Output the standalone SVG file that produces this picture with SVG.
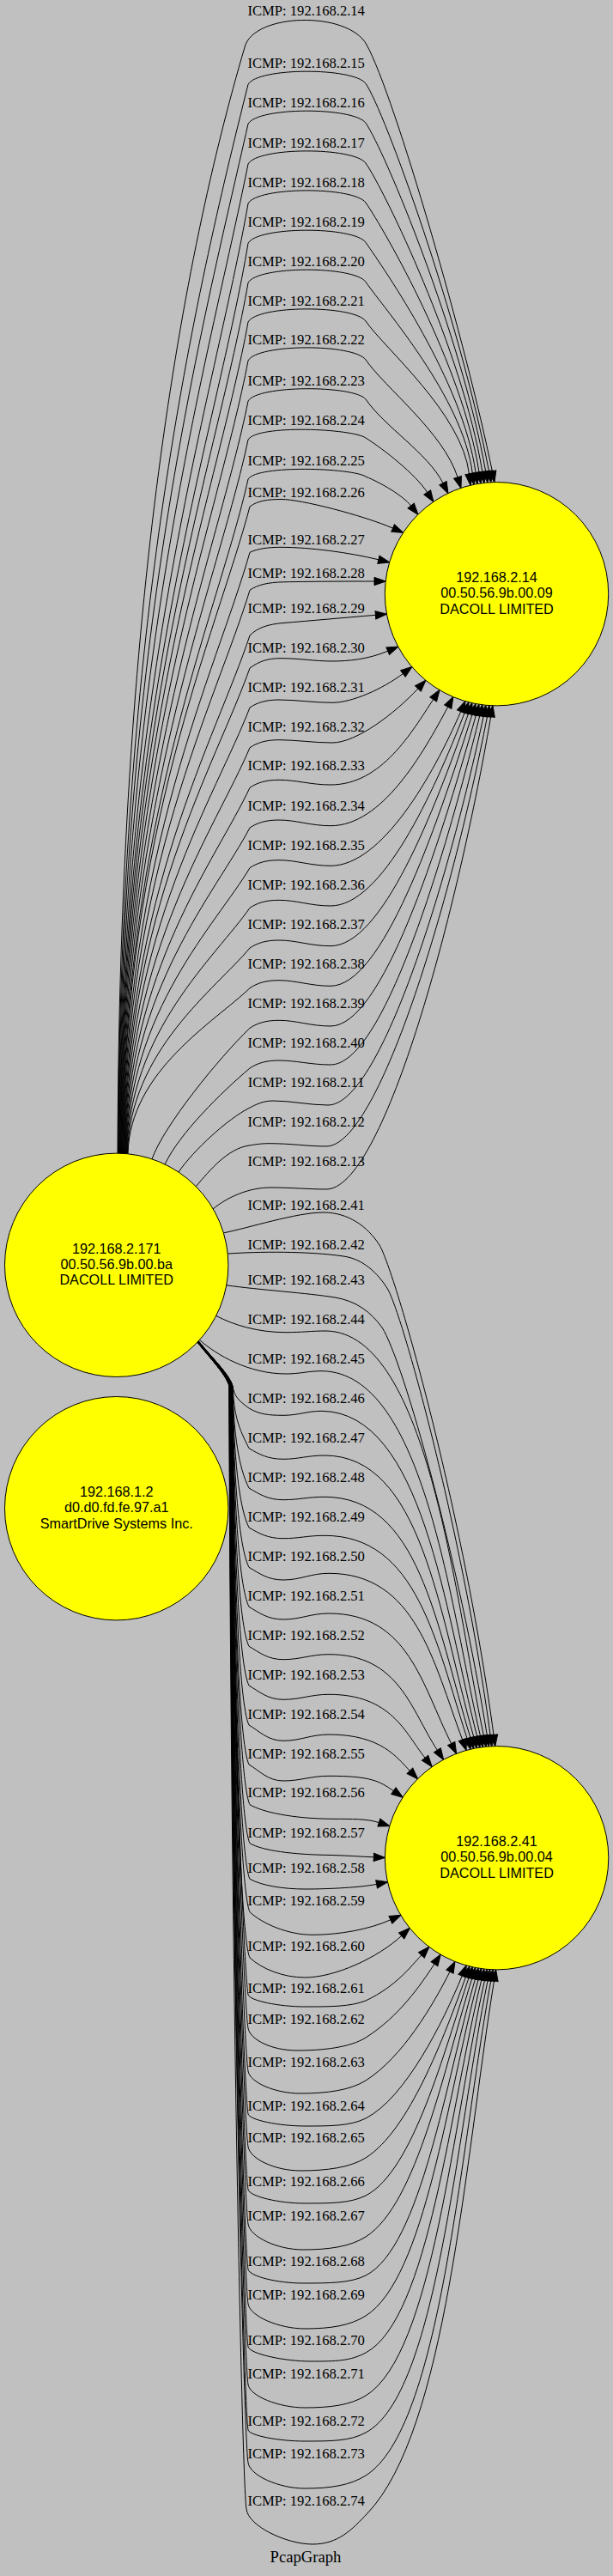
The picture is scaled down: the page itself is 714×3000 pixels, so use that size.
<svg xmlns="http://www.w3.org/2000/svg" width="714" height="3000" viewBox="0 0 714 3000">
<style>
.n circle{fill:#ffff00;stroke:#000;stroke-width:1}
.n text{font-family:"Liberation Sans",Arial,sans-serif;font-size:16.2px;text-anchor:middle;fill:#000}
#edges path{fill:none;stroke:#000;stroke-width:1;marker-end:url(#ah)}
.l{font-family:"Liberation Serif","Times New Roman",serif;font-size:16.6px;text-anchor:middle;fill:#000}
.t{font-family:"Liberation Serif","Times New Roman",serif;font-size:18.67px;text-anchor:middle;fill:#000}
</style>
<defs>
<marker id="ah" markerUnits="userSpaceOnUse" viewBox="0 -5 14 10" refX="0" refY="0" markerWidth="14" markerHeight="10" orient="auto" overflow="visible">
<path d="M0,-4.65 L13.3,0 L0,4.65 z" fill="#000" stroke="#000" stroke-width="1"/>
</marker>
</defs>
<rect x="0" y="0" width="714" height="3000" fill="#c0c0c0"/>
<g id="edges">
<path d="M137,1343.6 C139,699.3 213,300 285,55 C295,15 405,12 427,52 C460,112 543.5,402.7 573.3,548.7"/>
<path d="M137.5,1343.6 C139.5,720.9 226.7,347.3 289,98.3 C300,78.3 412,78.3 426,97.3 C448,129.3 535.5,371.5 569.5,548.8"/>
<path d="M138,1343.6 C140,744 235,384.2 289,144.3 C300,124.3 412,124.3 426,143.3 C448,175.3 537.1,389.3 565.7,549"/>
<path d="M138.5,1343.6 C140.5,767.3 242.9,421.5 289,191 C300,171 412,171 426,190 C448,222 538.2,407.6 561.8,549.4"/>
<path d="M139,1343.6 C141,790.3 250.3,458.3 289,237 C300,217 412,217 426,236 C448,268 538.9,425.8 558,549.9"/>
<path d="M139.5,1343.6 C141.5,813.5 254,495.4 289,283.3 C300,263.3 412,263.3 426,282.3 C448,314.3 539.1,444.3 554.1,550.5"/>
<path d="M140,1343.6 C142,836.5 254,532.2 289,329.3 C300,309.3 412,309.3 426,328.3 C448,360.3 538.9,462.7 550.3,551.2"/>
<path d="M140.5,1343.6 C142.5,859.3 254,568.7 289,375 C300,355 412,355 426,374 C448,406 538.2,481.4 546.5,552.1"/>
<path d="M141,1343.6 C143,881.8 254,604.7 289,420 C300,400 412,400 426,419 C448,451 516.6,503.6 533,555.8"/>
<path d="M141.5,1343.6 C143.5,905.3 254,642.3 289,467 C300,448.3 412,448.3 426,465 C448,497 498.5,527.9 516,562.7"/>
<path d="M142,1343.6 C144,927.8 254,678.3 289,512 C300,494.3 410,499 426,510 C448,524 483.7,552.2 497.7,573.4"/>
<path d="M142.5,1343.6 C144.5,950.8 254,715 289,558 C300,541 410,545 426,555 C445,563 469.4,577.3 478.7,589"/>
<path d="M143,1343.6 C145,966.8 251,740.7 291,590 C300,583 312,581.5 328,581.5 C350,581.5 420.8,599.5 457.6,615.1"/>
<path d="M143.5,1343.6 C145.5,993.5 251,783.3 291,643.3 C300,639 312,637.3 328,637.3 C360,637.3 406.9,643.4 440.9,651.8"/>
<path d="M144,1343.6 C146,1015.5 251,818.6 291,687.3 C300,681 312,678.3 330,677.8 C370,677 410,677 436,677"/>
<path d="M144.5,1343.6 C146.5,1041.8 251,860.7 291,740 C300,731 312,727 330,725.5 C360,723 400,719.5 437.4,716.3"/>
<path d="M145,1343.6 C147,1060.8 251,891 291,778 C302,770 312,766.7 327,766.7 C350,766.7 365,770 387,770 C405,770 428.6,768 451.7,758.2"/>
<path d="M145.5,1343.6 C147.5,1083.8 251,927.9 291,824 C300,818 310,815 325,815 C345,815 365,818.3 387,818.3 C410,818.3 445.4,802.5 469.4,784.5"/>
<path d="M146,1343.6 C148,1107.2 251,965.3 291,870.7 C300,864.7 310,861.7 325,861.7 C345,861.7 365,865 387,865 C415,865 459.6,831.2 486.9,801.9"/>
<path d="M146.5,1343.6 C148.5,1130.5 251,1002.6 291,917.3 C300,911.3 310,908.3 325,908.3 C345,908.3 362,914 385,914 C444.9,914 480,851.8 504.7,814.5"/>
<path d="M147,1343.6 C149,1153.8 251,1039.9 291,964 C300,958 310,955 325,955 C345,955 362,961.7 385,961.7 C445,961.7 492.4,878.2 521.7,823.2"/>
<path d="M147.5,1343.6 C149.5,1177.2 251,1077.3 291,1010.7 C300,1004.7 310,1001.7 325,1001.7 C345,1001.7 362,1008.3 385,1008.3 C445,1008.3 504.5,902.8 536.7,828.7"/>
<path d="M148,1343.6 C150,1200.5 251,1114.6 291,1057.3 C300,1051.3 310,1048.3 325,1048.3 C345,1048.3 362,1055 385,1055 C445,1055 504.6,924.5 541.2,830"/>
<path d="M148.5,1343.6 C150.5,1223.8 251,1151.9 291,1104 C300,1098 310,1095 325,1095 C345,1095 362,1101.7 385,1101.7 C445,1101.7 505.3,945.9 545.6,831"/>
<path d="M149,1343.6 C151,1247.2 251,1189.3 291,1150.7 C300,1144.7 310,1141.7 325,1141.7 C345,1141.7 362,1148.3 385,1148.3 C445,1148.3 507.2,967.8 550,832.1"/>
<path d="M177,1350 C190,1312 255,1232 291,1197.3 C300,1191.3 310,1188.3 325,1188.3 C345,1188.3 362,1195 385,1195 C445,1195 510.3,989.8 554.4,832.9"/>
<path d="M192,1356 C209,1320 258,1272 291,1244 C300,1238 310,1235 325,1235 C345,1235 362,1240 385,1240 C445,1240 514.9,1011 558.8,833.5"/>
<path d="M208,1365 C225,1340 265,1303 291,1290 C298,1286.5 306,1282 318,1282 C340,1282 360,1287 382,1287 C442,1287 520.5,1033.4 563.2,834.1"/>
<path d="M228,1382 C245,1362 265,1338 290,1334 C300,1332.5 305,1331.7 313,1331.7 C340,1331.7 358,1335 380,1335 C440,1335 524.6,1055.6 567.5,834.5"/>
<path d="M248,1408 C265,1394 290,1383 315,1383 C340,1383 360,1385 380,1385 C445,1385 529.6,1078.7 571.7,834.7"/>
<path d="M260.2,1435.9 C290,1430 345,1412 377,1412 C405,1412 428,1428 442,1450 C460,1480 540,1760 575,2020.5"/>
<path d="M265,1460.1 C300,1457.5 360,1457 400,1463 C422,1466 440,1482 452,1502 C470,1535 540,1790 571.1,2020.7"/>
<path d="M263.6,1496.8 C300,1502 360,1506 390,1511 C415,1515 432,1528 445,1546 C470,1585 535,1820 567.3,2020.9"/>
<path d="M251.5,1532.3 C272,1543 300,1551.7 333,1551.7 C352,1551.7 362,1550 380,1550 C500,1552 531.9,1874.6 563.4,2021.3"/>
<path d="M232.3,1560.3 C252,1578 290,1600 333,1600 C350,1600 358,1596.7 375,1596.7 C495,1598 525,1875.8 559.5,2021.8"/>
<path d="M231.2,1561.6 C245.2,1579.6 267,1600 271,1614 C273,1627 278,1630.9 290,1640 C302,1647 312,1648.3 330,1648.3 C348,1648.3 357,1643.3 375,1643.3 C492.5,1645 518.2,1877.1 555.7,2022.3"/>
<path d="M231.2,1561.7 C245.2,1579.7 266.9,1600 270.9,1614 C272.9,1650.4 278,1662.7 290,1686.7 C302,1693.7 312,1699.3 330,1699.3 C348,1699.3 358,1695 378,1695 C491,1695 511.3,1878.5 551.8,2023"/>
<path d="M231.1,1561.7 C245.1,1579.7 266.7,1600 270.7,1614 C272.7,1673.5 278,1709 290,1733 C302,1740 312,1746.7 330,1746.7 C348,1746.7 358,1743.3 378,1743.3 C488,1743.3 507.3,1889.8 547.9,2023.8"/>
<path d="M231,1561.8 C245,1579.8 266.6,1600 270.6,1614 C272.6,1696.5 278,1755 290,1779 C302,1786 312,1791.7 330,1791.7 C348,1791.7 358,1788.3 378,1788.3 C486,1788.3 507.5,1912.5 544.1,2024.7"/>
<path d="M231,1561.8 C245,1579.8 266.4,1600 270.4,1614 C272.4,1719.7 278,1801.3 290,1825.3 C302,1832.3 312,1840 330,1840 C350,1840 362,1832.3 383,1832.3 C484,1832.3 504.7,1935.2 538.6,2026.1"/>
<path d="M231,1561.9 C245,1579.9 266.3,1600 270.3,1614 C272.3,1742.7 278,1847.3 290,1871.3 C302,1878.3 312,1886 330,1886 C350,1886 362,1879 383,1879 C475.8,1879 491.6,1962.9 525.7,2030.6"/>
<path d="M230.9,1561.9 C244.9,1579.9 266.1,1600 270.1,1614 C272.1,1765.7 278,1893.3 290,1917.3 C302,1924.3 312,1932.7 330,1932.7 C350,1932.7 362,1926.7 383,1926.7 C465.2,1926.7 478.7,1991.7 509.4,2038.3"/>
<path d="M230.9,1562 C244.9,1580 266,1600 270,1614 C272,1788.5 278,1939 290,1963 C302,1970 312,1979.3 330,1979.3 C350,1979.3 362,1973.3 383,1973.3 C455.9,1973.3 472.2,2018.3 495.1,2047.3"/>
<path d="M230.8,1562 C244.8,1580 265.8,1600 269.8,1614 C271.8,1811.5 278,1985 290,2009 C302,2016 312,2027.3 330,2027.3 C350,2027.3 362,2020 383,2020 C444.4,2020 462.7,2047.3 477.4,2062.3"/>
<path d="M230.8,1562.1 C244.8,1580.1 265.7,1600 269.7,1614 C271.7,1834.5 278,2031 290,2055 C302,2062 312,2074 330,2074 C350,2074 362,2068.3 383,2068.3 C432,2068.3 442,2074.3 458.4,2085.7"/>
<path d="M230.7,1562.1 C244.7,1580.1 265.5,1600 269.5,1614 C271.5,1857.9 279,2077.7 291,2101.7 C305,2110 340,2118 387,2118.3 C410,2118.5 427.1,2117.9 441.4,2122.6"/>
<path d="M230.7,1562.2 C244.7,1580.2 265.4,1600 269.4,1614 C271.4,1880.4 279,2122.7 291,2146.7 C305,2155 340,2160 387,2160.5 C405,2161 420,2162.2 435.3,2162.8"/>
<path d="M230.6,1562.2 C244.6,1580.2 265.2,1600 269.2,1614 C271.2,1901.2 279,2164.3 291,2188.3 C305,2196 330,2200 355,2200 C385,2200 420,2198 438.6,2194.4"/>
<path d="M230.6,1562.3 C244.6,1580.3 265,1600 269,1614 C271,1920.4 279,2202.7 291,2226.7 C305,2240 335,2253.3 364,2253.3 C395,2253.3 430,2247 454.9,2235.8"/>
<path d="M230.5,1562.3 C244.5,1580.3 264.9,1600 268.9,1614 C270.9,1947 279,2256 291,2280 C305,2293 330,2303 355,2303 C390,2303 440,2280 467.7,2254.4"/>
<path d="M230.5,1562.4 C244.5,1580.4 264.8,1600 268.8,1614 C270.8,1968.5 284,2298 289,2323 C291,2330 325,2337 355,2337 C385,2337 408,2337 426,2330 C461.4,2313.2 478.2,2290.5 490.9,2276.9"/>
<path d="M230.4,1562.4 C244.4,1580.4 264.6,1600 268.6,1614 C270.6,1988 284,2337 289,2362 C291,2375 316,2388 346,2388 C376,2388 408,2384.4 426,2373 C464.7,2348.5 489.5,2312.3 506,2287.2"/>
<path d="M230.4,1562.5 C244.4,1580.5 264.5,1600 268.5,1614 C270.5,2013 284,2387 289,2412 C291,2425 320,2438 350,2438 C380,2438 408,2434.4 426,2423 C468.6,2396 504,2335.8 524,2296.2"/>
<path d="M230.3,1562.5 C244.3,1580.5 264.3,1600 268.3,1614 C270.3,2038 284,2437 289,2462 C291,2469 325,2476 355,2476 C385,2476 408,2476 426,2467 C472.5,2443.1 516.2,2354.8 538.2,2301.1"/>
<path d="M230.3,1562.6 C244.3,1580.6 264.2,1600 268.2,1614 C270.2,2057 284,2475 289,2500 C291,2514 320,2528 350,2528 C380,2528 408,2524.4 426,2513 C477,2480.7 517.4,2371.6 542.5,2302.3"/>
<path d="M230.2,1562.6 C244.2,1580.6 264,1600 268,1614 C270,2082 284,2525 289,2550 C291,2558 325,2566 355,2566 C385,2566 408,2566 426,2557 C481.5,2528.5 517.7,2387.3 546.1,2303.2"/>
<path d="M230.2,1562.7 C244.2,1580.7 263.9,1600 267.9,1614 C269.9,2102 284,2565 289,2590 C291,2605 323,2620 353,2620 C383,2620 408,2616.4 426,2605 C486,2567 518.2,2404.5 549.8,2304"/>
<path d="M230.1,1562.7 C244.1,1580.7 263.7,1600 267.7,1614 C269.7,2128.5 284,2618 289,2643 C291,2651 323,2659 353,2659 C383,2659 408,2659 426,2650 C490.5,2616.9 519.6,2420.8 553.5,2304.7"/>
<path d="M230.1,1562.8 C244.1,1580.8 263.6,1600 267.6,1614 C269.6,2148.5 284,2658 289,2683 C291,2697.5 325,2712 355,2712 C385,2712 408,2708.4 426,2697 C495.3,2653.1 521.5,2437.6 557.1,2305.2"/>
<path d="M230,1562.8 C244,1580.8 263.4,1600 267.4,1614 C269.4,2173.5 284,2708 289,2733 C291,2741.5 332,2750 362,2750 C392,2750 408,2749.6 426,2740 C499.5,2700.8 524.3,2453.4 560.8,2305.8"/>
<path d="M230,1562.9 C244,1580.9 263.3,1600 267.3,1614 C269.3,2195.5 284,2752 289,2777 C291,2790.5 325,2804 355,2804 C385,2804 408,2801 426,2790 C504.3,2742 527.3,2471.4 564.5,2306.2"/>
<path d="M229.9,1562.9 C243.9,1580.9 263.1,1600 267.1,1614 C269.1,2222 284,2805 289,2830 C291,2836.5 325,2843 355,2843 C385,2843 408,2843 426,2833 C508.8,2788.8 531.2,2487.1 568.1,2306.5"/>
<path d="M229.9,1563 C243.9,1581 263,1600 267,1614 C269,2241 284,2843 289,2868 C291,2883 325,2898 355,2898 C385,2898 408,2894.4 426,2883 C513.6,2827.5 535.5,2505.2 571.8,2306.7"/>
<path d="M229.8,1563 C243.8,1581 262.8,1600 266.8,1614 C268.8,2268 282,2897 287,2922 C289,2942 334,2963 364,2963 C394,2963 410,2946 428,2927 C520.1,2830 540.8,2521 575.5,2306.8"/>
</g>
<g id="edge-labels">
<text class="l" x="356.7" y="18.4">ICMP: 192.168.2.14</text>
<text class="l" x="356.7" y="79">ICMP: 192.168.2.15</text>
<text class="l" x="356.7" y="125">ICMP: 192.168.2.16</text>
<text class="l" x="356.7" y="171.7">ICMP: 192.168.2.17</text>
<text class="l" x="356.7" y="217.7">ICMP: 192.168.2.18</text>
<text class="l" x="356.7" y="264">ICMP: 192.168.2.19</text>
<text class="l" x="356.7" y="310">ICMP: 192.168.2.20</text>
<text class="l" x="356.7" y="355.7">ICMP: 192.168.2.21</text>
<text class="l" x="356.7" y="400.7">ICMP: 192.168.2.22</text>
<text class="l" x="356.7" y="449">ICMP: 192.168.2.23</text>
<text class="l" x="356.7" y="495">ICMP: 192.168.2.24</text>
<text class="l" x="356.7" y="541.7">ICMP: 192.168.2.25</text>
<text class="l" x="356.7" y="579">ICMP: 192.168.2.26</text>
<text class="l" x="356.7" y="634">ICMP: 192.168.2.27</text>
<text class="l" x="356.7" y="673">ICMP: 192.168.2.28</text>
<text class="l" x="356.7" y="714">ICMP: 192.168.2.29</text>
<text class="l" x="356.7" y="759.7">ICMP: 192.168.2.30</text>
<text class="l" x="356.7" y="805.7">ICMP: 192.168.2.31</text>
<text class="l" x="356.7" y="852.4">ICMP: 192.168.2.32</text>
<text class="l" x="356.7" y="897.4">ICMP: 192.168.2.33</text>
<text class="l" x="356.7" y="944">ICMP: 192.168.2.34</text>
<text class="l" x="356.7" y="989.7">ICMP: 192.168.2.35</text>
<text class="l" x="356.7" y="1035.7">ICMP: 192.168.2.36</text>
<text class="l" x="356.7" y="1081.7">ICMP: 192.168.2.37</text>
<text class="l" x="356.7" y="1127.7">ICMP: 192.168.2.38</text>
<text class="l" x="356.7" y="1173.7">ICMP: 192.168.2.39</text>
<text class="l" x="356.7" y="1219.7">ICMP: 192.168.2.40</text>
<text class="l" x="356.7" y="1265.7">ICMP: 192.168.2.11</text>
<text class="l" x="356.7" y="1311.7">ICMP: 192.168.2.12</text>
<text class="l" x="356.7" y="1357.7">ICMP: 192.168.2.13</text>
<text class="l" x="356.7" y="1409">ICMP: 192.168.2.41</text>
<text class="l" x="356.7" y="1455">ICMP: 192.168.2.42</text>
<text class="l" x="356.7" y="1495.7">ICMP: 192.168.2.43</text>
<text class="l" x="356.7" y="1541.7">ICMP: 192.168.2.44</text>
<text class="l" x="356.7" y="1587.7">ICMP: 192.168.2.45</text>
<text class="l" x="356.7" y="1634">ICMP: 192.168.2.46</text>
<text class="l" x="356.7" y="1679.7">ICMP: 192.168.2.47</text>
<text class="l" x="356.7" y="1725.7">ICMP: 192.168.2.48</text>
<text class="l" x="356.7" y="1771.7">ICMP: 192.168.2.49</text>
<text class="l" x="356.7" y="1818">ICMP: 192.168.2.50</text>
<text class="l" x="356.7" y="1864">ICMP: 192.168.2.51</text>
<text class="l" x="356.7" y="1910">ICMP: 192.168.2.52</text>
<text class="l" x="356.7" y="1955.7">ICMP: 192.168.2.53</text>
<text class="l" x="356.7" y="2001.7">ICMP: 192.168.2.54</text>
<text class="l" x="356.7" y="2047.7">ICMP: 192.168.2.55</text>
<text class="l" x="356.7" y="2093.4">ICMP: 192.168.2.56</text>
<text class="l" x="356.7" y="2139.7">ICMP: 192.168.2.57</text>
<text class="l" x="356.7" y="2181">ICMP: 192.168.2.58</text>
<text class="l" x="356.7" y="2219">ICMP: 192.168.2.59</text>
<text class="l" x="356.7" y="2272.4">ICMP: 192.168.2.60</text>
<text class="l" x="356.7" y="2320.7">ICMP: 192.168.2.61</text>
<text class="l" x="356.7" y="2357.4">ICMP: 192.168.2.62</text>
<text class="l" x="356.7" y="2406.7">ICMP: 192.168.2.63</text>
<text class="l" x="356.7" y="2458">ICMP: 192.168.2.64</text>
<text class="l" x="356.7" y="2494.7">ICMP: 192.168.2.65</text>
<text class="l" x="356.7" y="2546.4">ICMP: 192.168.2.66</text>
<text class="l" x="356.7" y="2585.7">ICMP: 192.168.2.67</text>
<text class="l" x="356.7" y="2639">ICMP: 192.168.2.68</text>
<text class="l" x="356.7" y="2677.7">ICMP: 192.168.2.69</text>
<text class="l" x="356.7" y="2730.7">ICMP: 192.168.2.70</text>
<text class="l" x="356.7" y="2770">ICMP: 192.168.2.71</text>
<text class="l" x="356.7" y="2824.7">ICMP: 192.168.2.72</text>
<text class="l" x="356.7" y="2863">ICMP: 192.168.2.73</text>
<text class="l" x="356.7" y="2918">ICMP: 192.168.2.74</text>
</g>
<g id="node-192.168.2.171" class="n">
<circle cx="135.7" cy="1473.3" r="130.2"/>
<text x="135.7" y="1459.7">192.168.2.171</text>
<text x="135.7" y="1478">00.50.56.9b.00.ba</text>
<text x="135.7" y="1496.3">DACOLL LIMITED</text>
</g>
<g id="node-192.168.1.2" class="n">
<circle cx="135.7" cy="1756.7" r="130.2"/>
<text x="135.7" y="1743.1">192.168.1.2</text>
<text x="135.7" y="1761.4">d0.d0.fd.fe.97.a1</text>
<text x="135.7" y="1779.7">SmartDrive Systems Inc.</text>
</g>
<g id="node-192.168.2.14" class="n">
<circle cx="578.5" cy="691.7" r="130.2"/>
<text x="578.5" y="678.1">192.168.2.14</text>
<text x="578.5" y="696.4">00.50.56.9b.00.09</text>
<text x="578.5" y="714.7">DACOLL LIMITED</text>
</g>
<g id="node-192.168.2.41" class="n">
<circle cx="578.6" cy="2163.7" r="130.2"/>
<text x="578.6" y="2150.1">192.168.2.41</text>
<text x="578.6" y="2168.4">00.50.56.9b.00.04</text>
<text x="578.6" y="2186.7">DACOLL LIMITED</text>
</g>
<text class="t" x="356" y="2984">PcapGraph</text>
</svg>
